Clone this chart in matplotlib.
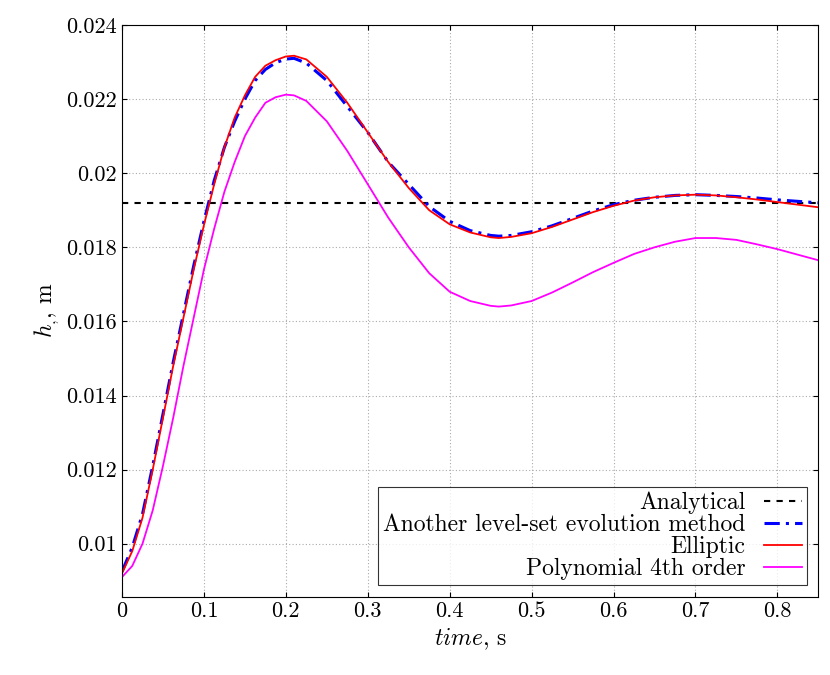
import numpy as np
import matplotlib.pyplot as plt

plt.rcParams['font.family'] = 'serif'
plt.rcParams['font.serif'] = ['cmr10', 'DejaVu Serif']
plt.rcParams['mathtext.fontset'] = 'cm'
plt.rcParams['axes.unicode_minus'] = False

t = [0.0, 0.0125, 0.025, 0.0375, 0.05, 0.0625, 0.075, 0.0875, 0.1, 0.1125, 0.125, 0.1375, 0.15,
     0.1625, 0.175, 0.1875, 0.2, 0.21, 0.225, 0.25, 0.275, 0.3, 0.325, 0.35, 0.375, 0.4, 0.425,
     0.45, 0.46, 0.475, 0.5, 0.525, 0.55, 0.575, 0.6, 0.625, 0.65, 0.675, 0.7, 0.725, 0.75,
     0.775, 0.8, 0.825, 0.85]
analytical = 0.0192
another = [0.00925, 0.0099, 0.0108, 0.0121, 0.0135, 0.0149, 0.0162, 0.0175, 0.0187, 0.0198,
           0.0207, 0.0214, 0.0220, 0.0225, 0.0228, 0.02298, 0.02308, 0.0231, 0.02297, 0.0225,
           0.0218, 0.0211, 0.0203, 0.0197, 0.0191, 0.0187, 0.01845, 0.01832, 0.0183, 0.01832,
           0.01842, 0.01858, 0.01878, 0.01898, 0.01915, 0.01927, 0.01935, 0.0194, 0.01942,
           0.0194, 0.01937, 0.01933, 0.01928, 0.01924, 0.0192]
elliptic = [0.0092, 0.0098, 0.0107, 0.0120, 0.0134, 0.0148, 0.0161, 0.0174, 0.0186, 0.0197,
            0.0207, 0.0215, 0.0221, 0.0226, 0.0229, 0.02305, 0.02315, 0.02317, 0.02307, 0.0226,
            0.0219, 0.0211, 0.0203, 0.0196, 0.0190, 0.01862, 0.0184, 0.01827, 0.01825, 0.01828,
            0.01838, 0.01855, 0.01875, 0.01895, 0.01912, 0.01926, 0.01935, 0.0194, 0.01942,
            0.0194, 0.01935, 0.01929, 0.01922, 0.01915, 0.01908]
poly = [0.0091, 0.0094, 0.0100, 0.0109, 0.0121, 0.0134, 0.0148, 0.0161, 0.0174, 0.0185,
        0.0195, 0.0203, 0.0210, 0.0215, 0.0219, 0.02205, 0.02212, 0.0221, 0.02195, 0.0214,
        0.0206, 0.0197, 0.0188, 0.0180, 0.0173, 0.0168, 0.01655, 0.01642, 0.0164, 0.01643,
        0.01655, 0.01678, 0.01705, 0.01733, 0.01758, 0.01782, 0.01800, 0.01815, 0.01825,
        0.01825, 0.0182, 0.01808, 0.01795, 0.0178, 0.01765]

fig = plt.figure(figsize=(8.3, 6.75), dpi=100)
ax = fig.add_axes([0.147, 0.116, 0.839, 0.847])
ax.axhline(analytical, color='black', ls=(0, (3, 3)), lw=1.5, label='Analytical')
ax.plot(t, another, color='blue', ls=(0, (5, 2, 1, 2)), lw=2.2, label='Another level-set evolution method')
ax.plot(t, elliptic, color='red', lw=1.3, label='Elliptic')
ax.plot(t, poly, color='magenta', lw=1.3, label='Polynomial 4th order')

ax.set_xlim(0, 0.85)
ax.set_ylim(0.00857, 0.024)
ax.set_xticks(np.arange(0, 0.81, 0.1))
ax.set_xticklabels(['0', '0.1', '0.2', '0.3', '0.4', '0.5', '0.6', '0.7', '0.8'])
ax.set_yticks([0.01, 0.012, 0.014, 0.016, 0.018, 0.02, 0.022, 0.024])
ax.set_yticklabels(['0.01', '0.012', '0.014', '0.016', '0.018', '0.02', '0.022', '0.024'])
ax.tick_params(direction='in', labelsize=16, top=True, right=True)
ax.grid(True, color='#aaaaaa', ls=(0, (1, 2)), lw=0.8)
ax.set_xlabel(r'$time$, s', fontsize=17)
ax.set_ylabel(r'$h_{,}$, m', fontsize=17)

leg = ax.legend(loc='lower right', fontsize=17, markerfirst=False, frameon=True, fancybox=False,
                edgecolor='black', handlelength=1.6, labelspacing=0.0, borderpad=0.2,
                bbox_to_anchor=(1.0, 0.0))
for txt in leg.get_texts():
    txt.set_ha('right')
leg._legend_box.align = 'right'
leg.get_frame().set_linewidth(0.8)

fig.savefig('out.png', dpi=100)
